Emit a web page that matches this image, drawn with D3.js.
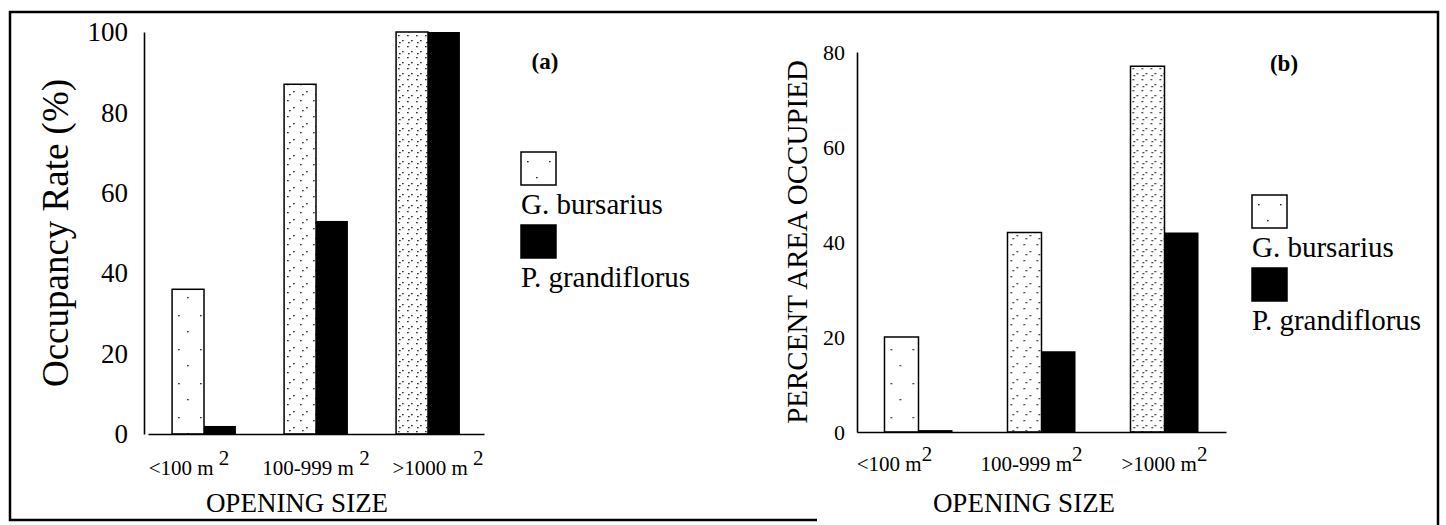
<!DOCTYPE html>
<html>
<head>
<meta charset="utf-8">
<script src="https://cdn.jsdelivr.net/npm/d3@7"></script>
<style>
  body { margin: 0; background: #fff; }
  svg { display: block; font-family: "Liberation Serif", "Times New Roman", serif; }
</style>
</head>
<body>
<svg id="chart" width="1446" height="525"></svg>
<script>
// opening size classes (the "2" of m² is added as a superscript)
var categories = ["<100 m", "100-999 m", ">1000 m"];
var species = ["G. bursarius", "P. grandiflorus"];

// (a) occupancy rate, %
var occupancyGB = [36, 87, 100];
var occupancyPG = [2, 53, 100];

// (b) percent area occupied
var areaGB = [20, 42, 77];
var areaPG = [0.4, 17, 42];

var ticksA = [0, 20, 40, 60, 80, 100];
var ticksB = [0, 20, 40, 60, 80];

var svg = d3.select("#chart");

// stipple fills for the G. bursarius bars (sparse -> dense)
var stipples = [
  { id: "dots0", w: 22, h: 34, dots: [[6, 9], [15, 25]] },
  { id: "dots1", w: 13, h: 16, dots: [[3, 4], [9, 11], [5, 14]] },
  { id: "dots2", w: 9, h: 11, dots: [[2, 2], [6, 7], [3, 9]] }
];
var defs = svg.append("defs");
stipples.forEach(function(s) {
  var pat = defs.append("pattern")
      .attr("id", s.id)
      .attr("patternUnits", "userSpaceOnUse")
      .attr("width", s.w)
      .attr("height", s.h);
  pat.append("rect").attr("width", s.w).attr("height", s.h).attr("fill", "#fff");
  pat.selectAll("rect.d").data(s.dots).enter().append("rect")
      .attr("class", "d")
      .attr("x", function(d) { return d[0]; })
      .attr("y", function(d) { return d[1]; })
      .attr("width", 1.6)
      .attr("height", 1.3)
      .attr("fill", "#222");
});

// outer frame
svg.append("path")
    .attr("d", "M817,520H10V12H1438V525")
    .attr("fill", "none")
    .attr("stroke", "#000")
    .attr("stroke-width", 2.5);

var panels = [
  {
    gb: occupancyGB, pg: occupancyPG, yMax: 100, ticks: ticksA,
    xRange: [148, 484], padIn: 0.43, yRange: [434, 32], axisX: 144,
    tickPad: 16, tickFont: 27,
    yTitle: "Occupancy Rate (%)", yTitleFont: 37, yTitleX: 55,
    xLabelY: 475, xLabelFont: 21, supGap: " ", supRise: 10, labelShift: [-15, 0, 10],
    xTitleX: 297, xTitleY: 512,
    tag: "(a)", tagX: 545, tagY: 69,
    legX: 521, legY: 152
  },
  {
    gb: areaGB, pg: areaPG, yMax: 80, ticks: ticksB,
    xRange: [857, 1226], padIn: 0.447, yRange: [432, 52], axisX: 857,
    tickPad: 12, tickFont: 22,
    yTitle: "PERCENT AREA OCCUPIED", yTitleFont: 29, yTitleX: 797,
    xLabelY: 471, xLabelFont: 21, supGap: "", supRise: 10, labelShift: [-24, -10, 0],
    xTitleX: 1024, xTitleY: 512,
    tag: "(b)", tagX: 1284, tagY: 71,
    legX: 1252, legY: 195
  }
];

panels.forEach(drawPanel);

function drawPanel(p) {
  var x0 = d3.scaleBand()
      .domain(categories)
      .range(p.xRange)
      .paddingInner(p.padIn)
      .paddingOuter(p.padIn / 2);
  var x1 = d3.scaleBand()
      .domain(species)
      .range([0, x0.bandwidth()]);
  var y = d3.scaleLinear()
      .domain([0, p.yMax])
      .range(p.yRange);

  var rows = categories.map(function(c, i) {
    return { cat: c, i: i, values: [p.gb[i], p.pg[i]] };
  });

  // bars
  var groups = svg.append("g").selectAll("g")
      .data(rows)
      .enter().append("g")
      .attr("transform", function(d) { return "translate(" + x0(d.cat) + ",0)"; });

  groups.selectAll("rect")
      .data(function(d) {
        return species.map(function(s, k) { return { sp: s, k: k, i: d.i, v: d.values[k] }; });
      })
      .enter().append("rect")
      .attr("x", function(d) { return x1(d.sp); })
      .attr("y", function(d) { return y(d.v); })
      .attr("width", x1.bandwidth())
      .attr("height", function(d) { return y(0) - y(d.v); })
      .attr("fill", function(d) { return d.k === 0 ? "url(#dots" + d.i + ")" : "#000"; })
      .attr("stroke", "#000")
      .attr("stroke-width", function(d) { return d.k === 0 ? 1.5 : 0; });

  // y axis
  var yAxis = svg.append("g")
      .attr("transform", "translate(" + p.axisX + ",0)")
      .call(d3.axisLeft(y).tickValues(p.ticks).tickSize(0).tickSizeOuter(0).tickPadding(p.tickPad));
  yAxis.select(".domain").attr("stroke-width", 1.6);
  yAxis.selectAll("text")
      .attr("font-family", "Liberation Serif")
      .attr("font-size", p.tickFont)
      .attr("fill", "#000");

  // x axis (line only, labels drawn below with superscripts)
  var xAxis = svg.append("g")
      .attr("transform", "translate(0," + y(0) + ")")
      .call(d3.axisBottom(x0).tickSize(0).tickSizeOuter(0).tickFormat(""));
  xAxis.select(".domain").attr("stroke-width", 1.6);

  var labels = svg.append("g").selectAll("text")
      .data(rows)
      .enter().append("text")
      .attr("x", function(d) { return x0(d.cat) + x0.bandwidth() / 2 + p.labelShift[d.i]; })
      .attr("y", p.xLabelY)
      .attr("text-anchor", "middle")
      .attr("font-size", p.xLabelFont);
  labels.append("tspan").text(function(d) { return d.cat; });
  labels.append("tspan")
      .attr("dy", -p.supRise)
      .text(p.supGap + "2");

  // axis titles
  svg.append("text")
      .attr("transform", "translate(" + p.yTitleX + "," + (p.yRange[0] + p.yRange[1]) / 2 + ") rotate(-90)")
      .attr("text-anchor", "middle")
      .attr("dy", "0.35em")
      .attr("font-size", p.yTitleFont)
      .text(p.yTitle);

  svg.append("text")
      .attr("x", p.xTitleX)
      .attr("y", p.xTitleY)
      .attr("text-anchor", "middle")
      .attr("font-size", 27)
      .text("OPENING SIZE");

  svg.append("text")
      .attr("x", p.tagX)
      .attr("y", p.tagY)
      .attr("text-anchor", "middle")
      .attr("font-size", 23)
      .attr("font-weight", "bold")
      .text(p.tag);

  // legend
  var leg = svg.append("g").attr("transform", "translate(" + p.legX + "," + p.legY + ")");
  species.forEach(function(s, k) {
    leg.append("rect")
        .attr("x", 0)
        .attr("y", k * 73)
        .attr("width", 35)
        .attr("height", 33)
        .attr("fill", k === 0 ? "url(#dots0)" : "#000")
        .attr("stroke", "#000")
        .attr("stroke-width", 1.5);
    leg.append("text")
        .attr("x", 0)
        .attr("y", k * 73 + 62)
        .attr("font-size", 29)
        .text(s);
  });
}
</script>
</body>
</html>
